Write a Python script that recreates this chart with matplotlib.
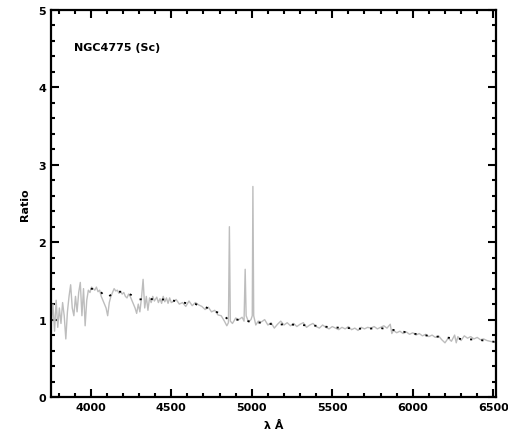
import matplotlib
matplotlib.use("Agg")
import matplotlib.pyplot as plt
from matplotlib.ticker import MultipleLocator

# observed ratio spectrum (gray)
wave = [3755, 3765, 3775, 3785, 3795, 3805, 3815, 3825, 3835, 3845,
        3855, 3865, 3875, 3885, 3895, 3905, 3915, 3925, 3935, 3945,
        3955, 3965, 3975, 3985, 3995, 4005, 4015, 4025, 4035, 4045,
        4055, 4065, 4075, 4085, 4095, 4105, 4115, 4125, 4135, 4145,
        4155, 4165, 4175, 4185, 4195, 4205, 4215, 4225, 4235, 4245,
        4255, 4265, 4275, 4285, 4295, 4305, 4315, 4325, 4335, 4345,
        4355, 4365, 4375, 4385, 4395,
        4410, 4420, 4430, 4440, 4450, 4460, 4470, 4480, 4490, 4500,
        4510, 4530, 4550, 4570, 4590,
        4610, 4630, 4650, 4670, 4690, 4710, 4730, 4750, 4770, 4790,
        4810, 4830, 4845, 4855, 4861, 4867, 4880, 4900, 4920, 4940,
        4952, 4959, 4965, 4980, 4995, 5003, 5007, 5012, 5025, 5040,
        5060, 5080, 5100, 5120, 5140, 5160, 5180, 5200, 5220, 5240,
        5260, 5280, 5300, 5320, 5340, 5360, 5380, 5400, 5420, 5440,
        5460, 5480, 5500, 5520, 5540, 5560, 5580, 5600, 5620, 5640,
        5660, 5680, 5700, 5720, 5740, 5760, 5780, 5800, 5820, 5840,
        5860, 5870, 5880, 5900, 5920, 5940, 5960, 5980, 6000, 6020,
        6040, 6060, 6080, 6100, 6120, 6140, 6160, 6180, 6200, 6220,
        6240, 6260, 6270, 6280, 6300, 6320, 6340, 6360, 6380, 6400,
        6420, 6440, 6460, 6480, 6500, 6520]
ratio = [0.95, 1.20, 0.85, 1.25, 0.90, 1.15, 0.95, 1.22, 1.05, 0.75,
         1.10, 1.30, 1.45, 1.15, 1.05, 1.30, 1.10, 1.35, 1.48, 1.05,
         1.40, 0.92, 1.25, 1.38, 1.35, 1.42, 1.40, 1.38, 1.42, 1.36,
         1.38, 1.30, 1.25, 1.20, 1.15, 1.05, 1.22, 1.30, 1.35, 1.40,
         1.37, 1.38, 1.34, 1.36, 1.33, 1.35, 1.30, 1.28, 1.33, 1.30,
         1.25, 1.20, 1.15, 1.08, 1.20, 1.10, 1.28, 1.52, 1.15, 1.30,
         1.12, 1.28, 1.22, 1.30, 1.24,
         1.29, 1.22, 1.27, 1.21, 1.30, 1.23, 1.28, 1.21, 1.28, 1.22,
         1.23, 1.26, 1.20, 1.22, 1.17,
         1.24, 1.18, 1.22, 1.19, 1.17, 1.13, 1.16, 1.10, 1.12, 1.06,
         1.05, 0.98, 0.92, 0.96, 2.20, 0.98, 0.95, 1.02, 1.00, 1.03,
         0.98, 1.65, 1.05, 0.97, 1.00, 1.05, 2.72, 1.05, 0.93, 0.98,
         0.97, 1.00, 0.93, 0.96, 0.89, 0.94, 0.98, 0.93, 0.96, 0.92,
         0.95, 0.91, 0.94, 0.96, 0.90, 0.93, 0.95, 0.91, 0.89, 0.93,
         0.90, 0.88, 0.91, 0.89, 0.87, 0.90, 0.88, 0.91, 0.87, 0.89,
         0.86, 0.90, 0.88, 0.90, 0.89, 0.91, 0.88, 0.90, 0.92, 0.89,
         0.94, 0.82, 0.86, 0.83, 0.85, 0.82, 0.84, 0.81, 0.83, 0.80,
         0.82, 0.79, 0.81, 0.78, 0.80, 0.77, 0.79, 0.74, 0.70, 0.76,
         0.72, 0.80, 0.70, 0.78, 0.73, 0.79, 0.76, 0.78, 0.75, 0.77,
         0.74, 0.75, 0.73, 0.72, 0.71, 0.70]

# template (black dotted)
model_wave = [4000, 4050, 4100, 4150, 4200, 4250, 4300, 4350, 4400, 4450,
              4500, 4550, 4600, 4650, 4700, 4750, 4800, 4850, 4900, 4950,
              5000, 5050, 5100, 5150, 5200, 5300, 5400, 5500, 5600, 5700,
              5800, 5900, 6000, 6100, 6200, 6300, 6400, 6520]
model = [1.40, 1.38, 1.28, 1.36, 1.36, 1.32, 1.26, 1.27, 1.26, 1.26,
         1.25, 1.23, 1.21, 1.20, 1.17, 1.13, 1.08, 1.01, 1.00, 0.99,
         0.97, 0.96, 0.95, 0.93, 0.94, 0.93, 0.92, 0.90, 0.89, 0.88,
         0.89, 0.86, 0.82, 0.79, 0.77, 0.75, 0.74, 0.71]

plt.rcParams['font.family'] = ['DejaVu Sans']
fig = plt.figure(figsize=(5.08, 4.39), dpi=100)
ax = fig.add_axes([0.1004, 0.0934, 0.8760, 0.8816])

ax.plot(wave, ratio, color='#bdbdbd', lw=1.0)
ax.plot(model_wave, model, color='black', lw=1.3, linestyle=(0, (1.2, 5)))

ax.set_xlim(3753, 6517)
ax.set_ylim(0, 5)
ax.xaxis.set_major_locator(MultipleLocator(500))
ax.xaxis.set_minor_locator(MultipleLocator(100))
ax.yaxis.set_major_locator(MultipleLocator(1))
ax.yaxis.set_minor_locator(MultipleLocator(0.2))
ax.tick_params(which='both', direction='in', top=True, right=True, width=1.5)
ax.tick_params(which='major', length=6, labelsize=8)
ax.tick_params(which='minor', length=3)
for lab in ax.get_xticklabels() + ax.get_yticklabels():
    lab.set_fontweight('bold')
for s in ax.spines.values():
    s.set_linewidth(1.6)

ax.set_xlabel('λ Å', fontsize=8, fontweight='bold', labelpad=6)
ax.set_ylabel('Ratio', fontsize=8, fontweight='bold', labelpad=6)
ax.text(0.052, 0.905, 'NGC4775 (Sc)', transform=ax.transAxes,
        fontsize=8, fontweight='bold', va='center')

fig.savefig('out.png', dpi=100)
